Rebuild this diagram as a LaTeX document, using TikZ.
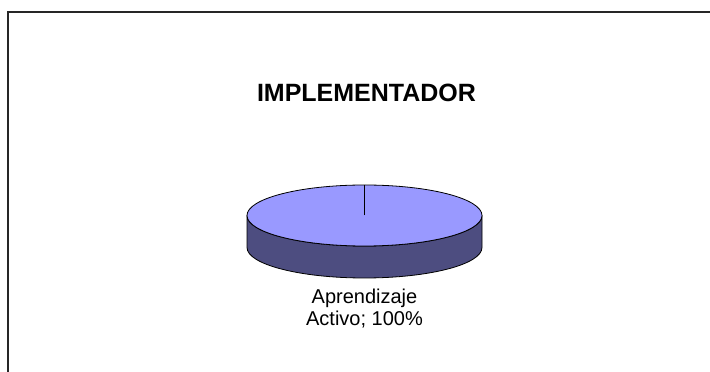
\documentclass[tikz,border=0pt]{standalone}
\usepackage{fontspec}
\setmainfont{Liberation Sans}
\definecolor{pietop}{HTML}{9999FF}
\definecolor{pieside}{HTML}{4D4D80}

\begin{document}
\begin{tikzpicture}[x=1pt,y=1pt]

    \tikzset{
      slice/.style={
        draw=black,
        line width=0.8pt,
        line join=round,
      },
      caption/.style={
        anchor=center,
        align=center,
        inner sep=0pt,
      },
    }
    \useasboundingbox (0,0) rectangle (710,372);
    \clip (0,0) rectangle (710,372);
	\draw[color={black!85},line width=1.2pt] (8,-5)--(8,360)--(715,360);
	\node[caption,font={\fontsize{25}{30}\selectfont\bfseries}] (title) at (366.5,279.5) {IMPLEMENTADOR};
	\draw[slice,fill=pieside] (247,156.5)--(247,124.5) arc[start angle=180,end angle=360,x radius=117.5,y radius=30.5]--(482,156.5) arc[start angle=0,end angle=-180,x radius=117.5,y radius=30.5]--cycle;
	\draw[slice,fill=pietop] (364.5,156.5) ellipse[x radius=117.5,y radius=30.5];
	\coordinate (center) at (364.5,156.5);
	\coordinate (edge) at (364.5,187);
	\draw[color={black},line width=0.8pt] (center)--(edge);
	\node[caption,font={\fontsize{20}{22}\selectfont}] (share) at (364.5,63) {Aprendizaje\\Activo; 100\%};

\end{tikzpicture}
\end{document}
